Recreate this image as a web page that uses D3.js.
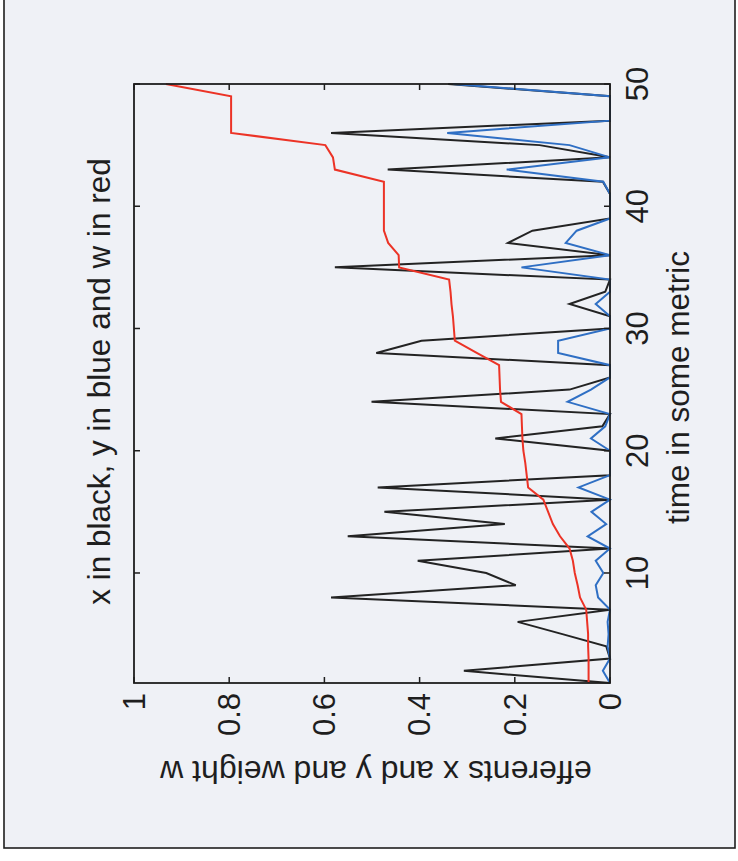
<!DOCTYPE html>
<html>
<head>
<meta charset="utf-8">
<script src="https://cdn.jsdelivr.net/npm/d3@7"></script>
<style>
  html, body { margin: 0; padding: 0; background: #ffffff; }
  svg { display: block; }
  text { font-family: "Liberation Sans", Arial, Helvetica, sans-serif; fill: #1e1e1e; }
</style>
</head>
<body>
<svg id="chart" width="738" height="861"></svg>
<script>
// ---- data (time steps 1..50) ----
const time = d3.range(1, 51);
const xBlack = [0, 0.307, 0, 0.008, 0.1, 0.194, 0, 0.586, 0.198, 0.26,
                0.404, 0, 0.551, 0.221, 0.474, 0, 0.488, 0, 0, 0,
                0.241, 0.016, 0, 0.501, 0.085, 0, 0, 0.491, 0.396, 0,
                0, 0.085, 0.01, 0, 0.578, 0, 0.214, 0.163, 0, 0,
                0, 0.015, 0.467, 0, 0.148, 0.586, 0, 0, 0, 0.34];
const yBlue  = [0, 0.015, 0, 0.005, 0.003, 0.005, 0, 0.025, 0.03, 0.014,
                0.03, 0, 0.047, 0.008, 0.039, 0, 0.066, 0, 0, 0,
                0.04, 0.01, 0, 0.089, 0.04, 0, 0, 0.109, 0.109, 0,
                0, 0.03, 0, 0, 0.186, 0, 0.093, 0.07, 0, 0,
                0, 0.014, 0.217, 0, 0.085, 0.342, 0, 0, 0, 0.33];
const wRed   = [0.045, 0.045, 0.045, 0.046, 0.046, 0.048, 0.05, 0.063, 0.068, 0.074,
                0.078, 0.085, 0.105, 0.12, 0.13, 0.14, 0.172, 0.175, 0.178, 0.182,
                0.184, 0.185, 0.186, 0.229, 0.231, 0.232, 0.233, 0.28, 0.326, 0.328,
                0.33, 0.333, 0.335, 0.338, 0.443, 0.444, 0.466, 0.475, 0.475, 0.475,
                0.475, 0.475, 0.578, 0.582, 0.598, 0.796, 0.796, 0.796, 0.796, 0.933];
const valueTicks = [0, 0.2, 0.4, 0.6, 0.8, 1];
const valueTickLabels = ["0", "0.2", "0.4", "0.6", "0.8", "1"];
const timeTicks = [10, 20, 30, 40, 50];
const timeTickLabels = ["10", "20", "30", "40", "50"];
const titleText = "x in black, y in blue and w in red";
const timeLabel = "time in some metric";
const valueLabel = "efferents x and y and weight w";

// ---- layout (figure is rotated 90° counter-clockwise) ----
const svg = d3.select("#chart");
const W = 738, H = 861;
const plot = { left: 134, right: 610, top: 84, bottom: 683 };

// paper
svg.append("rect").attr("x", 0).attr("y", 0).attr("width", W).attr("height", H).attr("fill", "#ffffff");
svg.append("rect").attr("x", 4).attr("y", -4).attr("width", 731).attr("height", 852)
   .attr("fill", "#eff1f6").attr("stroke", "#1e1e1e").attr("stroke-width", 1.6);

// value (0..1) runs horizontally, right-to-left; time runs vertically, bottom-to-top
const v = d3.scaleLinear().domain([0, 1]).range([plot.right, plot.left]);
const t = d3.scaleLinear().domain([1, 50]).range([plot.bottom, plot.top]);

const g = svg.append("g");

// series
const mk = arr => d3.line().x((d, i) => v(arr[i])).y((d, i) => t(time[i]));
const series = [
  { data: xBlack, color: "#232323", w: 2 },
  { data: yBlue,  color: "#2f6fc4", w: 2 },
  { data: wRed,   color: "#ec3326", w: 2 }
];
series.forEach(s => {
  g.append("path").datum(time).attr("d", mk(s.data))
   .attr("fill", "none").attr("stroke", s.color).attr("stroke-width", s.w)
   .attr("stroke-linejoin", "miter");
});

// frame
g.append("rect").attr("x", plot.left).attr("y", plot.top)
 .attr("width", plot.right - plot.left).attr("height", plot.bottom - plot.top)
 .attr("fill", "none").attr("stroke", "#1e1e1e").attr("stroke-width", 1.8);

const tick = 6;
// value ticks: bottom and top edges, pointing inward
valueTicks.forEach((d, i) => {
  const x = v(d);
  g.append("line").attr("x1", x).attr("x2", x).attr("y1", plot.bottom).attr("y2", plot.bottom - tick)
   .attr("stroke", "#1e1e1e").attr("stroke-width", 1.5);
  g.append("line").attr("x1", x).attr("x2", x).attr("y1", plot.top).attr("y2", plot.top + tick)
   .attr("stroke", "#1e1e1e").attr("stroke-width", 1.5);
  g.append("text").attr("transform", `translate(${x},${plot.bottom + 10}) rotate(-90)`)
   .attr("text-anchor", "end").attr("dy", "0.35em").attr("font-size", 31)
   .text(valueTickLabels[i]);
});
// time ticks: left and right edges, pointing inward
timeTicks.forEach((d, i) => {
  const y = t(d);
  g.append("line").attr("x1", plot.right).attr("x2", plot.right - tick).attr("y1", y).attr("y2", y)
   .attr("stroke", "#1e1e1e").attr("stroke-width", 1.5);
  g.append("line").attr("x1", plot.left).attr("x2", plot.left + tick).attr("y1", y).attr("y2", y)
   .attr("stroke", "#1e1e1e").attr("stroke-width", 1.5);
  g.append("text").attr("transform", `translate(${plot.right + 38},${y}) rotate(-90)`)
   .attr("text-anchor", "middle").attr("font-size", 31)
   .text(timeTickLabels[i]);
});

const cy = (plot.top + plot.bottom) / 2;
const cx = (plot.left + plot.right) / 2;
// title (left side)
g.append("text").attr("transform", `translate(110,${cy - 2}) rotate(-90)`)
 .attr("text-anchor", "middle").attr("font-size", 31.5).text(titleText);
// time axis label (right side)
g.append("text").attr("transform", `translate(689,${cy + 4}) rotate(-90)`)
 .attr("text-anchor", "middle").attr("font-size", 31.5).text(timeLabel);
// value axis label (bottom, upside down)
g.append("text").attr("transform", `translate(${cx + 4},761) rotate(180)`)
 .attr("text-anchor", "middle").attr("font-size", 32).text(valueLabel);
</script>
</body>
</html>
